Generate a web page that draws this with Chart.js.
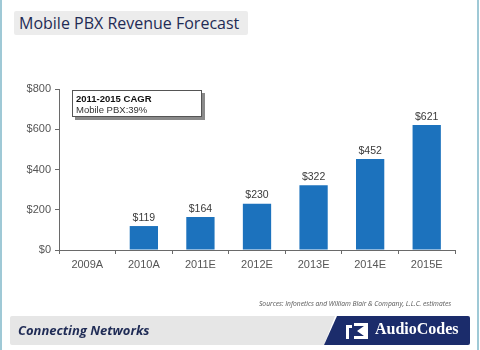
<!DOCTYPE html>
<html>
<head>
<meta charset="utf-8">
<script src="https://cdn.jsdelivr.net/npm/chart.js@4.4.0/dist/chart.umd.min.js"></script>
<style>
  html, body { margin: 0; padding: 0; background: #fff; }
  #slide { position: relative; width: 480px; height: 350px; overflow: hidden; background: #fff; font-family: "Liberation Sans", Arial, sans-serif; }
  #chart { position: absolute; left: 0; top: 0; }
  .edge { position: absolute; top: 0; width: 2px; height: 350px; background: #9fc9d6; }
  #title { position: absolute; left: 14px; top: 11px; width: 234px; height: 24px; background: #ececec; border-radius: 2px;
           color: #1f2b55; font: 16px "Open Sans", "Noto Sans", sans-serif; line-height: 24px; padding-left: 5px; box-sizing: border-box; }
  #cagr { position: absolute; left: 72px; top: 90px; width: 130px; height: 27px; background: #fff; border: 1px solid #555;
          box-shadow: 3px 3px 0 #8a8a8a; box-sizing: border-box; padding: 2px 0 0 3px; font-size: 9.5px; line-height: 11px; color: #333; z-index: 2; }
  #cagr b { color: #111; }
  #sources { position: absolute; left: 259px; top: 299px; font: italic 6.7px "Open Sans", "Noto Sans", sans-serif; color: #555; white-space: nowrap; }
  #footer { position: absolute; left: 0; top: 315px; }
  #tag { position: absolute; left: 18px; top: 321px; font: italic bold 13px "Open Sans", "Noto Sans", sans-serif; color: #1f2b55; }
  #brand { position: absolute; left: 375px; top: 320px; font: bold 16px "Liberation Serif", "DejaVu Serif", serif; color: #fff; }
</style>
</head>
<body>
<div id="slide">
  <div class="edge" style="left:0"></div>
  <div class="edge" style="left:477px"></div>
  <div id="title">Mobile PBX Revenue Forecast</div>
  <canvas id="chart" width="480" height="350"></canvas>
  <div id="cagr"><b>2011-2015 CAGR</b><br>Mobile PBX:39%</div>
  <div id="sources">Sources: Infonetics and William Blair &amp; Company, L.L.C. estimates</div>
  <svg id="footer" width="480" height="32">
    <path d="M10 3 Q10 1 12 1 L335 1 L324 30 L12 30 Q10 30 10 28 Z" fill="#e6e6e6"/>
    <path d="M337 1 L468 1 Q470 1 470 3 L470 28 Q470 30 468 30 L324 30 Z" fill="#1b2c6b"/>
    <path d="M346 10 L352 10 L352 13 L349 13 L349 24 L346 24 Z" fill="#fff"/>
    <path d="M354 8 L368 8 L368 24 L354 24 L354 21 L364 21 L357 16 L364 11 L354 11 Z" fill="#fff"/>
  </svg>
  <div id="tag">Connecting Networks</div>
  <div id="brand">AudioCodes</div>
</div>
<script>
// Chart values
const categories = ['2009A', '2010A', '2011E', '2012E', '2013E', '2014E', '2015E'];
const revenue = [null, 119, 164, 230, 322, 452, 621];
const yTicks = [0, 200, 400, 600, 800];

const barColor = '#1c72bd';
const axisColor = '#6a6a6a';

// Draws the "$xxx" label above each bar.
const valueLabels = {
  id: 'valueLabels',
  afterDatasetsDraw(chart) {
    const ctx = chart.ctx;
    const meta = chart.getDatasetMeta(0);
    ctx.save();
    ctx.font = '10.5px "Liberation Sans", Arial, sans-serif';
    ctx.fillStyle = '#3a3a3a';
    ctx.textAlign = 'center';
    ctx.textBaseline = 'bottom';
    meta.data.forEach((bar, i) => {
      const v = revenue[i];
      if (v == null) return;
      ctx.fillText('$' + v, bar.x, bar.y - 3);
    });
    ctx.restore();
  }
};

new Chart(document.getElementById('chart').getContext('2d'), {
  type: 'bar',
  data: {
    labels: categories,
    datasets: [{
      data: revenue,
      backgroundColor: barColor,
      borderWidth: 0,
      categoryPercentage: 1,
      barPercentage: 0.5
    }]
  },
  options: {
    responsive: false,
    animation: false,
    layout: { padding: { top: 89, right: 25, bottom: 70, left: 0 } },
    plugins: { legend: { display: false }, tooltip: { enabled: false } },
    scales: {
      x: {
        afterFit: (scale) => { scale.height = 30; },
        grid: { offset: true, drawOnChartArea: false, drawTicks: true, tickLength: 4, color: axisColor },
        border: { display: true, color: axisColor, width: 1 },
        ticks: { color: '#555', font: { size: 11, family: '"Liberation Sans", Arial, sans-serif' }, padding: 4 }
      },
      y: {
        min: 0,
        max: 800,
        afterFit: (scale) => { scale.width = 59; },
        afterBuildTicks: (scale) => { scale.ticks = yTicks.map(v => ({ value: v })); },
        grid: { drawOnChartArea: false, drawTicks: true, tickLength: 4, color: axisColor },
        border: { display: true, color: axisColor, width: 1 },
        ticks: {
          color: '#555',
          font: { size: 11, family: '"Liberation Sans", Arial, sans-serif' },
          padding: 4,
          callback: (v) => '$' + v
        }
      }
    }
  },
  plugins: [valueLabels]
});
</script>
</body>
</html>
